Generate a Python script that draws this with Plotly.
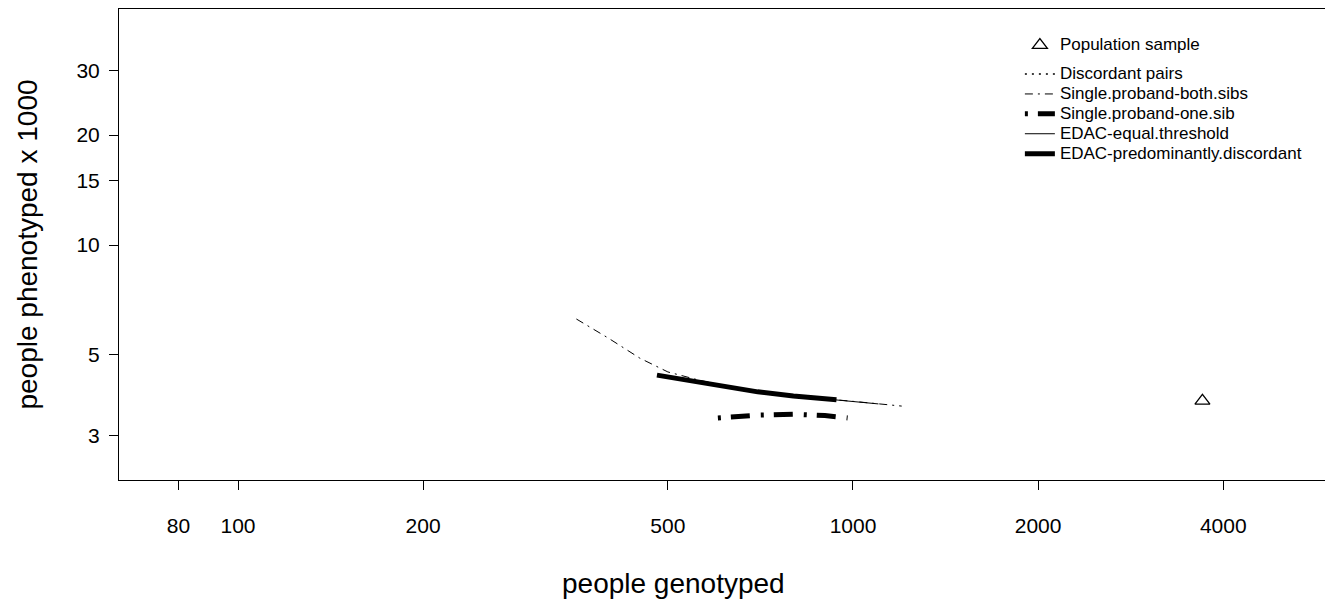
import plotly.graph_objects as go

# ---- data ----
pop_x = [3700]
pop_y = [3.74]

discordant_x = [490, 550, 620, 700, 800, 930]
discordant_y = [4.38, 4.24, 4.11, 3.96, 3.86, 3.77]

both_sibs_x = [355, 400, 450, 500, 560, 620, 700, 800, 900, 1000, 1100, 1200]
both_sibs_y = [6.27, 5.56, 4.90, 4.49, 4.27, 4.11, 3.96, 3.86, 3.79, 3.73, 3.67, 3.62]

one_sib_x = [603, 700, 800, 900, 980]
one_sib_y = [3.36, 3.42, 3.44, 3.41, 3.36]

equal_x = [480, 550, 620, 700, 800, 900, 1000, 1100]
equal_y = [4.40, 4.24, 4.11, 3.96, 3.86, 3.79, 3.73, 3.67]

pred_x = [480, 550, 620, 700, 800, 940]
pred_y = [4.40, 4.24, 4.11, 3.96, 3.86, 3.77]

x_ticks = [80, 100, 200, 500, 1000, 2000, 4000]
y_ticks = [3, 5, 10, 15, 20, 30]

FONT = "Liberation Sans, Arial, Helvetica, sans-serif"


def lg(name):
    return '<span style="font-size:17px">' + name + '</span>'


fig = go.Figure()
fig.add_trace(go.Scatter(x=pop_x, y=pop_y, mode="markers", name=lg("Population sample"),
                         legendgroup="a",
                         marker=dict(symbol="triangle-up-open", size=13, color="black",
                                     line=dict(width=1.3, color="black"))))
fig.add_trace(go.Scatter(x=discordant_x, y=discordant_y, mode="lines", name=lg("Discordant pairs"),
                         legendgroup="b",
                         line=dict(color="black", width=1.6, dash="2px,5px")))
fig.add_trace(go.Scatter(x=both_sibs_x, y=both_sibs_y, mode="lines", name=lg("Single.proband-both.sibs"),
                         legendgroup="b",
                         line=dict(color="black", width=1, dash="8px,5px,2px,5px")))
fig.add_trace(go.Scatter(x=one_sib_x, y=one_sib_y, mode="lines", name=lg("Single.proband-one.sib"),
                         legendgroup="b",
                         line=dict(color="black", width=5, dash="3px,10px,19px,11px")))
fig.add_trace(go.Scatter(x=equal_x, y=equal_y, mode="lines", name=lg("EDAC-equal.threshold"),
                         legendgroup="b",
                         line=dict(color="black", width=1)))
fig.add_trace(go.Scatter(x=pred_x, y=pred_y, mode="lines", name=lg("EDAC-predominantly.discordant"),
                         legendgroup="b",
                         line=dict(color="black", width=5)))

fig.update_layout(
    width=1325, height=605,
    margin=dict(l=119, r=0, t=9, b=125),
    paper_bgcolor="white", plot_bgcolor="white",
    font=dict(family=FONT, color="black", size=21),
    showlegend=True,
    legend=dict(x=0.747, y=0.955, xanchor="left", yanchor="top",
                font=dict(size=13, family=FONT), bgcolor="rgba(0,0,0,0)",
                tracegroupgap=9, traceorder="grouped"),
    annotations=[dict(text="people genotyped", xref="paper", yref="paper",
                      x=0.4594, y=-0.2187, xanchor="center", yanchor="middle",
                      showarrow=False, font=dict(size=28, family=FONT))],
)
fig.update_xaxes(type="log", range=[1.8065, 3.7675],
                 tickvals=x_ticks, ticktext=[str(v) for v in x_ticks],
                 ticks="outside", ticklen=9, tickwidth=1, tickcolor="black",
                 showline=True, linecolor="black", linewidth=1, mirror=True,
                 showgrid=False, zeroline=False, ticklabelstandoff=18,
                 tickfont=dict(size=21))
fig.update_yaxes(type="log", range=[0.3562, 1.6466],
                 tickvals=y_ticks, ticktext=[str(v) for v in y_ticks],
                 ticks="outside", ticklen=9, tickwidth=1, tickcolor="black",
                 showline=True, linecolor="black", linewidth=1, mirror=False,
                 showgrid=False, zeroline=False, ticklabelstandoff=5,
                 tickfont=dict(size=21),
                 title=dict(text="people phenotyped x 1000", font=dict(size=28), standoff=30))

fig.write_html("out.html")
